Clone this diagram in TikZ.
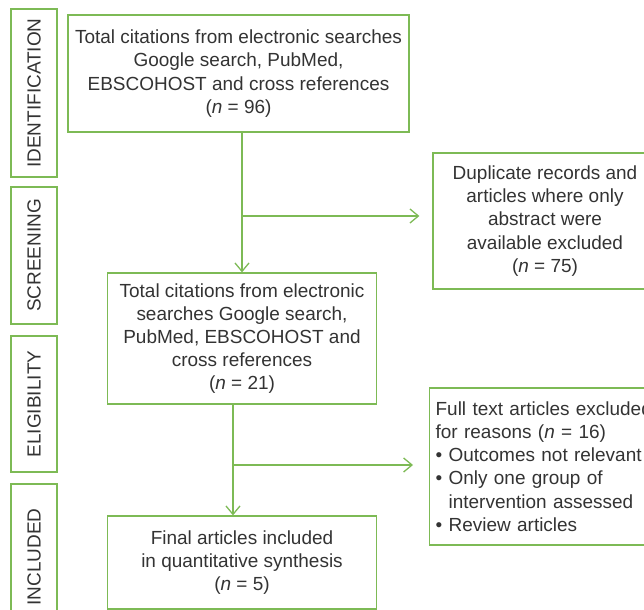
\documentclass[tikz,border=0pt]{standalone}
\usepackage{fontspec}
\setmainfont{Liberation Sans}
\usepackage{xcolor}
\usetikzlibrary{arrows.meta}
\definecolor{boxgreen}{HTML}{7DBA55}
\definecolor{inkgray}{HTML}{333333}

\begin{document}
\begin{tikzpicture}[
    every node/.style={text=inkgray, font=\fontsize{13.5}{16.5}\selectfont},
    flowbox/.style={draw=boxgreen, line width=0.9pt, align=center, inner sep=0pt},
    stagebox/.style={draw=boxgreen, line width=0.9pt, rotate=90, inner sep=0pt, minimum height=1.15cm},
    flowline/.style={draw=boxgreen, line width=0.9pt, -{Straight Barb[length=6pt,width=10pt]}}]
  \useasboundingbox (0,0) rectangle (16.1,-15.25);
  % stages
  \node[stagebox, minimum width=4.2cm] (ident) at (0.85,-2.325) {IDENTIFICATION};
  \node[stagebox, minimum width=3.425cm] (screen) at (0.85,-6.3875) {SCREENING};
  \node[stagebox, minimum width=3.4cm] (elig) at (0.85,-10.1) {ELIGIBILITY};
  \node[stagebox, minimum width=3.65cm] (incl) at (0.85,-13.925) {INCLUDED};
  % main column
  \node[flowbox, minimum width=8.525cm, minimum height=2.925cm] (search) at (5.9625,-1.8375)
    {Total citations from electronic searches\\Google search, PubMed,\\EBSCOHOST and cross references\\(\textit{n} = 96)};
  \node[flowbox, minimum width=6.725cm, minimum height=3.275cm] (screened) at (6.05,-8.4625)
    {Total citations from electronic\\searches Google search,\\PubMed, EBSCOHOST and\\cross references\\(\textit{n} = 21)};
  \node[flowbox, minimum width=6.725cm, minimum height=2.325cm] (final) at (6.05,-14.0625)
    {Final articles included\\in quantitative synthesis\\(\textit{n} = 5)};
  % excluded
  \node[flowbox, minimum width=5.6cm, minimum height=3.4cm] (dup) at (13.625,-5.525)
    {Duplicate records and\\articles where only\\abstract were\\available excluded\\(\textit{n} = 75)};
  \node[flowbox, align=left, text width=6.2cm, inner xsep=0.15cm, minimum height=3.925cm, anchor=west] (excl) at (10.725,-11.6625)
    {Full text articles excluded\\for reasons (\textit{n} = 16)\\\textbullet\ Outcomes not relevant\\\textbullet\ Only one group of\\\phantom{\textbullet\ }intervention assessed\\\textbullet\ Review articles};
  % connectors
  \coordinate (split1) at (6.05,-5.4);
  \coordinate (split2) at (5.825,-11.625);
  \draw[flowline] (search.south -| screened.north) -- (screened.north);
  \draw[flowline, shorten >=0.325cm] (split1) -- (split1 -| dup.west);
  \draw[flowline] (split2 |- screened.south) -- (split2 |- final.north);
  \draw[flowline, shorten >=0.4cm] (split2) -- (split2 -| excl.west);
\end{tikzpicture}
\end{document}
